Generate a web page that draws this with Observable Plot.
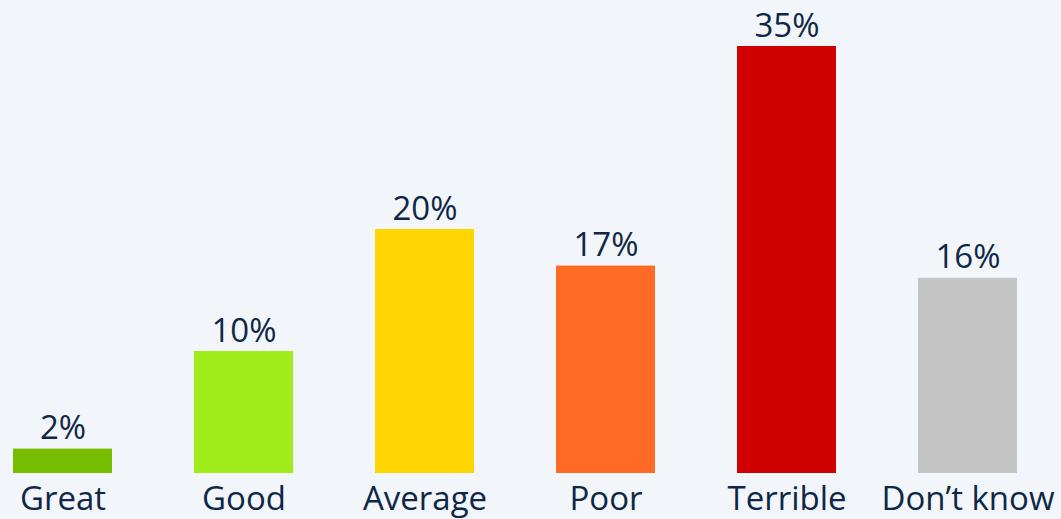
<!DOCTYPE html>
<html>
<head>
<meta charset="utf-8">
<script src="https://cdn.jsdelivr.net/npm/d3@7"></script>
<script src="https://cdn.jsdelivr.net/npm/@observablehq/plot@0.6"></script>
<style>
  html, body { margin: 0; padding: 0; background: #f2f6fa; }
  #chart svg { display: block; }
</style>
</head>
<body>
<div id="chart"></div>
<script>
const categories = ["Great", "Good", "Average", "Poor", "Terrible", "Don\u2019t know"];
const values = [2, 10, 20, 17, 35, 16];
const colors = ["#78be00", "#a0eb1a", "#ffd500", "#ff6a24", "#d00000", "#c4c4c4"];

const data = categories.map((c, i) => ({ category: c, value: values[i], color: colors[i] }));

const textColor = "#0f2747";

const chart = Plot.plot({
  width: 1061,
  height: 519,
  marginTop: 46,
  marginBottom: 46,
  marginLeft: 10,
  marginRight: 42,
  style: { background: "#f2f6fa", fontFamily: "'Open Sans', sans-serif" },
  x: { domain: categories, paddingInner: 0.455, paddingOuter: 0, label: null },
  y: { domain: [0, 35], axis: null },
  marks: [
    Plot.barY(data, { x: "category", y: "value", fill: "color" }),
    Plot.text(data, {
      x: "category", y: "value", text: d => d.value + "%",
      lineAnchor: "bottom", dy: -10, fontSize: 33, fill: textColor
    }),
    Plot.axisX({ tickSize: 0, tickPadding: 13, fontSize: 33, fill: textColor, label: null })
  ]
});

document.getElementById("chart").appendChild(chart);
</script>
</body>
</html>
